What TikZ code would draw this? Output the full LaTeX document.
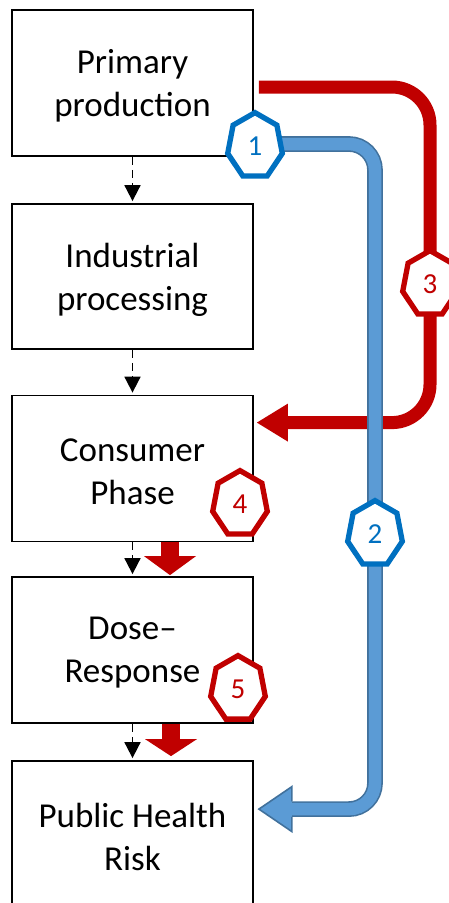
\documentclass[tikz,border=0pt]{standalone}
\usepackage{fontspec}
\setmainfont{Carlito}
\usetikzlibrary{arrows.meta,calc}
\definecolor{redA}{HTML}{C00000}
\definecolor{blueH}{HTML}{0070C0}
\definecolor{blueF}{HTML}{5B9BD5}
\definecolor{blueD}{HTML}{41719C}
\newcommand\heptpath[2]{%
  \draw[line width=5.3pt,draw=#2,fill=white,line join=miter]
    ($(#1)+(270:28 and 33.4)$)
    \foreach \k in {1,...,6}{ -- ($(#1)+({270+\k*360/7}:28 and 33.4)$) } -- cycle;
}
\tikzset{
  box/.style={draw, line width=1.8pt, minimum width=241pt, minimum height=146pt,
    inner sep=0pt},
  boxtext/.style={inner sep=0pt, align=center, font=\fontsize{35}{43}\selectfont},
  dasharr/.style={line width=1.8pt, dash pattern=on 8pt off 5pt,
    shorten >=2pt, -{Triangle[length=16pt,width=16pt]}},
  redshaft/.style={draw=redA, line width=13pt},
  blueshaft/.style={draw=blueD, line width=1.6pt, double=blueF, double distance=12.5pt},
  num/.style={inner sep=0pt, font=\fontsize{29}{29}\selectfont},
}
\begin{document}
\begin{tikzpicture}[x=1pt,y=-1pt]
\useasboundingbox (0,0) rectangle (449,903);
\clip (0,0) rectangle (449,903);
% boxes
\node[box] (b1) at (132.5,83) {};
\node[box, minimum height=145pt] (b2) at (132.5,276.5) {};
\node[box] (b3) at (132.5,468.5) {};
\node[box] (b4) at (132.5,650) {};
\node[box] (b5) at (132.5,834) {};
\node[boxtext] (t1) at ($(b1)+(0,3)$) {Primary\\production};
\node[boxtext] (t2) at ($(b2)+(0,3)$) {Industrial\\processing};
\node[boxtext] (t3) at ($(b3)+(0,3)$) {Consumer\\Phase};
\node[boxtext] (t4) at ($(b4)+(0,3)$) {Dose–\\Response};
\node[boxtext] (t5) at ($(b5)+(0,3)$) {Public Health\\Risk};
% dashed arrows
\draw[dasharr] (b1.south) -- (b2.north);
\draw[dasharr] (b2.south) -- (b3.north);
\draw[dasharr] (b3.south) -- (b4.north);
\draw[dasharr] (b4.south) -- (b5.north);
% heptagon centres
\coordinate (h1) at (255,146);
\coordinate (h2) at (375,534);
\coordinate (h3) at (430,284);
\coordinate (h4) at (240,504);
\coordinate (h5) at (238,689);
% red down arrows
\coordinate (d1s) at ($(b3.south)+(37.5,0)$);
\coordinate (d1t) at ($(b4.north)+(37.5,-1)$);
\draw[draw=redA, line width=18pt] (d1s) -- ($(d1t)+(0,-17)$);
\fill[redA] ($(d1t)+(-26,-19)$) -- (d1t) -- ($(d1t)+(26,-19)$) -- cycle;
\coordinate (d2s) at ($(b4.south)+(38.5,0)$);
\coordinate (d2t) at ($(b5.north)+(38.5,-4)$);
\draw[draw=redA, line width=18pt] (d2s) -- ($(d2t)+(0,-15)$);
\fill[redA] ($(d2t)+(-26,-17)$) -- (d2t) -- ($(d2t)+(26,-17)$) -- cycle;
% red arrow 3
\coordinate (r0) at ($(b1.east)+(5,4)$);
\coordinate (r1) at ($(b3.north east)+(34,28)$);
\coordinate (rt) at ($(b3.north east)+(3,28)$);
\draw[redshaft, rounded corners=38pt] (r0) -- (r0 -| h3) -- (h3 |- r1) -- ($(r1)+(-2,0)$);
\fill[redA] ($(r1)+(0,-19)$) -- (rt) -- ($(r1)+(0,19)$) -- cycle;
% blue arrow 2
\coordinate (bb) at ($(b5.north east)+(38,49)$);
\coordinate (bt) at ($(b5.north east)+(5,49)$);
\draw[blueshaft, rounded corners=26pt] ($(h1)+(0,-2)$) -- ($(h1 -| h2)+(0,-2)$) -- (h2 |- bb) -- ($(bb)+(-2,0)$);
\filldraw[fill=blueF, draw=blueD, line width=1.6pt, line join=miter]
  ($(bb)+(0,-7.8)$) -- ($(bb)+(0,-22.5)$) -- (bt) -- ($(bb)+(0,22.5)$) -- ($(bb)+(0,7.8)$);
% heptagons
\heptpath{h1}{blueH}
\node[num, text=blueH] (n1) at (h1) {1};
\heptpath{h2}{blueH}
\node[num, text=blueH] (n2) at (h2) {2};
\heptpath{h3}{redA}
\node[num, text=redA] (n3) at (h3) {3};
\heptpath{h4}{redA}
\node[num, text=redA] (n4) at (h4) {4};
\heptpath{h5}{redA}
\node[num, text=redA] (n5) at (h5) {5};
\end{tikzpicture}
\end{document}
